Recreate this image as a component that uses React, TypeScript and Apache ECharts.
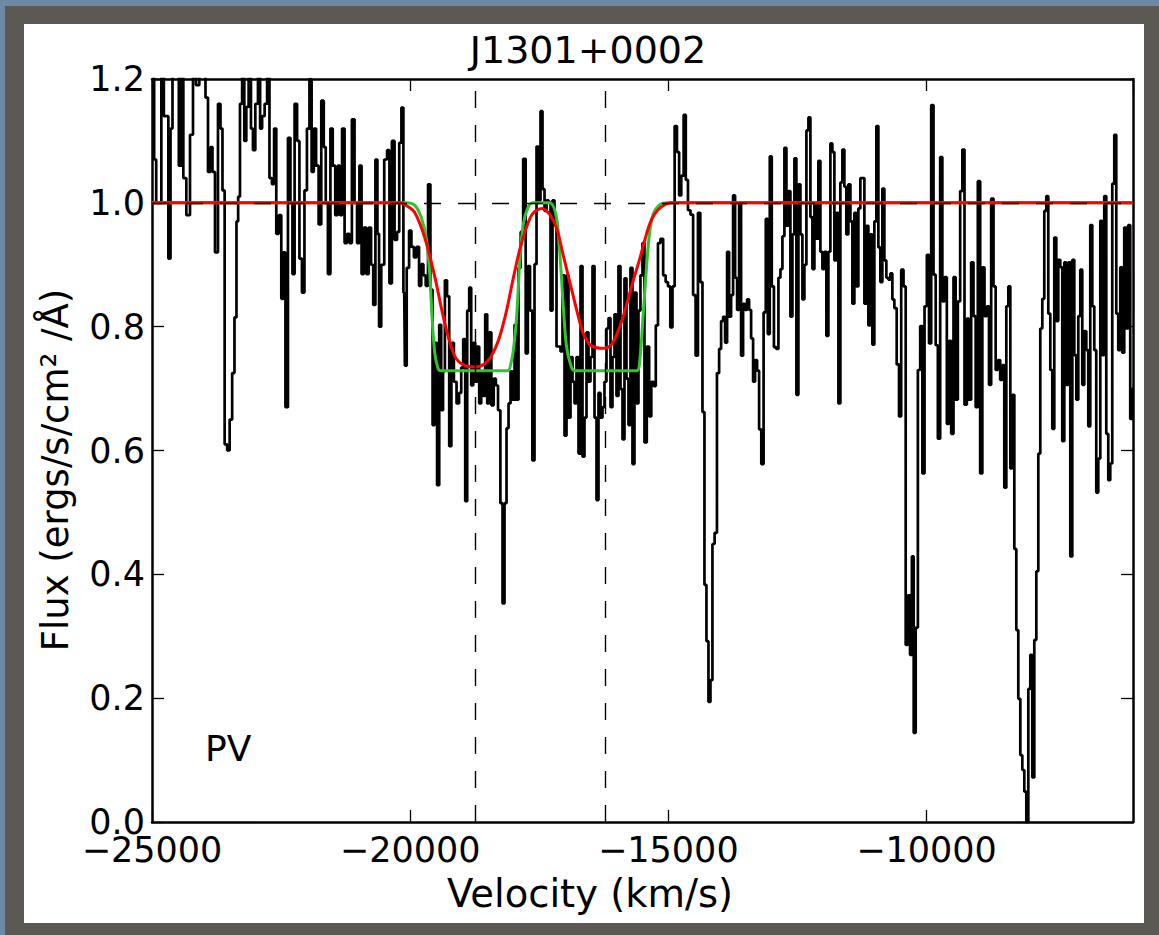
import React, { useEffect, useRef } from "react";
import * as echarts from "echarts";

const spectrumA: [number, number][] = [
  [-24974, 1.25], [-24942, 1.07], [-24896, 1.0], [-24845, 1.0], [-24793, 1.25], [-24748, 1.14], [-24703, 1.14], [-24664, 0.91],
  [-24619, 1.12], [-24587, 1.25], [-24542, 1.25], [-24503, 1.25], [-24458, 1.06], [-24412, 1.25], [-24374, 1.04], [-24296, 0.98],
  [-24232, 1.11], [-24180, 1.25], [-24116, 1.19], [-24051, 1.25], [-23987, 1.25], [-23941, 1.17], [-23890, 1.05], [-23845, 1.09],
  [-23812, 1.05], [-23748, 0.92], [-23696, 1.16], [-23651, 1.12], [-23619, 1.02], [-23567, 0.61], [-23522, 0.6], [-23470, 0.65],
  [-23425, 0.725], [-23380, 0.815], [-23348, 0.97], [-23315, 1.01], [-23277, 1.16], [-23232, 1.25], [-23193, 1.1], [-23154, 1.155],
  [-23103, 1.25], [-23064, 1.12], [-23025, 1.085], [-22973, 1.16], [-22922, 1.25], [-22890, 1.12], [-22844, 1.14], [-22793, 1.16],
  [-22748, 1.25], [-22702, 1.04], [-22651, 1.03], [-22619, 1.12], [-22567, 0.95], [-22522, 0.98], [-22470, 0.845], [-22438, 0.92],
  [-22393, 0.67], [-22341, 1.105], [-22296, 1.0], [-22264, 0.885], [-22212, 1.16], [-22167, 1.1], [-22122, 0.91], [-22070, 0.855],
  [-22025, 1.02], [-21973, 1.12], [-21928, 1.2], [-21889, 1.05], [-21844, 1.12], [-21799, 1.06], [-21747, 0.965], [-21696, 1.165],
  [-21651, 1.09], [-21619, 1.0], [-21567, 0.885], [-21522, 1.12], [-21477, 1.06], [-21425, 0.98], [-21380, 1.06], [-21341, 0.98],
  [-21296, 1.12], [-21244, 0.935], [-21199, 0.95], [-21154, 0.935], [-21103, 1.135], [-21051, 1.0], [-21006, 0.935], [-20960, 1.06],
  [-20922, 0.885], [-20877, 0.96], [-20825, 0.885], [-20780, 0.96], [-20734, 0.9], [-20696, 0.835], [-20650, 1.07], [-20618, 0.95],
  [-20586, 0.8], [-20534, 0.9], [-20470, 1.07], [-20424, 1.085], [-20379, 0.87], [-20328, 1.1], [-20276, 0.94],
];

const spectrumB: [number, number][] = [
  [-20231, 0.953], [-20192, 1.097], [-20147, 1.154], [-20115, 0.855], [-20089, 0.737], [-20044, 0.895], [-19998, 0.955], [-19953, 0.929],
  [-19902, 0.912], [-19850, 0.929], [-19805, 0.866], [-19766, 0.901], [-19721, 0.883], [-19676, 0.866], [-19631, 1.03], [-19585, 0.86],
  [-19547, 0.641], [-19501, 0.774], [-19456, 0.544], [-19418, 0.803], [-19379, 0.665], [-19347, 0.728], [-19308, 0.875], [-19263, 0.849],
  [-19224, 0.607], [-19179, 0.774], [-19127, 0.711], [-19076, 0.676], [-19030, 0.693], [-18992, 0.734], [-18953, 0.78], [-18914, 0.518],
  [-18876, 0.826], [-18837, 0.863], [-18798, 0.705], [-18759, 0.774], [-18721, 0.711], [-18682, 0.768], [-18643, 0.676], [-18605, 0.728],
  [-18566, 0.688], [-18527, 0.82], [-18488, 0.676], [-18450, 0.791], [-18404, 0.673], [-18359, 0.716], [-18321, 0.705], [-18275, 0.665],
  [-18230, 0.515], [-18192, 0.353], [-18153, 0.515], [-18114, 0.636], [-18075, 0.676], [-18037, 0.728], [-17998, 0.682], [-17959, 0.803],
  [-17920, 0.682], [-17882, 0.895], [-17837, 0.953], [-17785, 1.071], [-17740, 0.757], [-17701, 0.898], [-17656, 0.826], [-17611, 0.584],
  [-17572, 0.901], [-17533, 1.091], [-17495, 1.004], [-17456, 1.148], [-17417, 1.022], [-17378, 0.987], [-17340, 1.004], [-17301, 1.001],
  [-17262, 0.826], [-17224, 1.004], [-17185, 0.964], [-17146, 0.768], [-17107, 0.768], [-17069, 0.76], [-17030, 0.883], [-16991, 0.624],
  [-16953, 0.883], [-16914, 0.653], [-16875, 0.751], [-16836, 0.711], [-16798, 0.676], [-16759, 0.751], [-16720, 0.595], [-16681, 0.898],
  [-16643, 0.59], [-16604, 0.653], [-16565, 0.791], [-16527, 0.711], [-16488, 0.751], [-16449, 0.898], [-16410, 0.653], [-16372, 0.52],
  [-16333, 0.693], [-16294, 0.653], [-16256, 0.67], [-16217, 0.711], [-16178, 0.797], [-16139, 0.814], [-16101, 0.67], [-16062, 0.751],
  [-16023, 0.82], [-15985, 0.688], [-15946, 0.898], [-15907, 0.699], [-15868, 0.618], [-15830, 0.878], [-15791, 0.716], [-15752, 0.641],
  [-15714, 0.895], [-15675, 0.578], [-15636, 0.855], [-15597, 0.676], [-15559, 0.826], [-15520, 0.883], [-15481, 0.935], [-15443, 0.613],
  [-15391, 0.768],
];

const spectrumC: [number, number][] = [
  [-15352, 0.655], [-15307, 0.711], [-15262, 0.704], [-15223, 0.802], [-15178, 0.935], [-15126, 0.942], [-15074, 0.883], [-15029, 0.872],
  [-14984, 0.865], [-14939, 0.799], [-14900, 0.865], [-14855, 1.124], [-14810, 1.082], [-14771, 1.012], [-14726, 1.044], [-14681, 1.142],
  [-14642, 1.037], [-14597, 0.988], [-14545, 0.981], [-14494, 0.851], [-14449, 0.753], [-14403, 0.984], [-14358, 0.872], [-14319, 0.662],
  [-14281, 0.383], [-14242, 0.292], [-14203, 0.194], [-14165, 0.229], [-14126, 0.449], [-14081, 0.467], [-14035, 0.725], [-13997, 0.764],
  [-13958, 0.809], [-13919, 0.816], [-13881, 0.774], [-13842, 0.921], [-13803, 0.816], [-13765, 0.851], [-13726, 1.012], [-13687, 0.879],
  [-13648, 0.827], [-13610, 0.998], [-13571, 0.753], [-13532, 0.837], [-13493, 0.827], [-13455, 0.844], [-13416, 0.827], [-13377, 0.781],
  [-13339, 0.711], [-13300, 0.746], [-13261, 0.729], [-13222, 0.634], [-13177, 0.578], [-13132, 0.823], [-13093, 0.974], [-13054, 0.788],
  [-13016, 1.075], [-12977, 0.865], [-12932, 0.767], [-12887, 0.764], [-12848, 0.879], [-12809, 0.893], [-12771, 0.946], [-12732, 1.089],
  [-12693, 0.963], [-12655, 1.019], [-12616, 0.816], [-12577, 0.949], [-12539, 1.072], [-12500, 0.69], [-12461, 1.03], [-12422, 0.949],
  [-12384, 0.844], [-12345, 0.9], [-12306, 1.117], [-12267, 1.138], [-12229, 0.977], [-12190, 0.893], [-12151, 0.998], [-12113, 0.942],
  [-12074, 1.068], [-12035, 0.921], [-11996, 0.893], [-11958, 0.921], [-11919, 0.785], [-11880, 0.921], [-11842, 1.096], [-11803, 1.082],
  [-11764, 0.907], [-11725, 0.984], [-11687, 0.676], [-11648, 1.033], [-11609, 1.086], [-11571, 1.026], [-11532, 0.949], [-11493, 1.03],
  [-11454, 0.97], [-11416, 0.837], [-11377, 0.984], [-11338, 0.865], [-11300, 0.991], [-11261, 1.04], [-11222, 1.04], [-11183, 0.837],
  [-11145, 0.963], [-11106, 0.802], [-11067, 0.949], [-11029, 0.771], [-10990, 0.97], [-10951, 1.124], [-10912, 0.928], [-10874, 0.872],
  [-10835, 1.023], [-10796, 0.907], [-10758, 0.879], [-10719, 0.876], [-10680, 0.886], [-10641, 0.844], [-10603, 0.83], [-10551, 0.739],
];

const spectrumD: [number, number][] = [
  [-10512, 0.655], [-10467, 0.892], [-10422, 0.865], [-10383, 0.286], [-10338, 0.366], [-10299, 0.27], [-10267, 0.429], [-10228, 0.144],
  [-10189, 0.314], [-10144, 0.73], [-10099, 0.801], [-10060, 0.563], [-10015, 0.833], [-9970, 0.916], [-9931, 0.773], [-9886, 1.158],
  [-9841, 0.884], [-9802, 0.77], [-9757, 0.619], [-9712, 1.074], [-9673, 0.841], [-9628, 0.88], [-9583, 0.643], [-9544, 0.777],
  [-9499, 0.627], [-9454, 0.88], [-9415, 0.682], [-9370, 0.841], [-9325, 1.019], [-9286, 1.086], [-9241, 0.674], [-9196, 0.813],
  [-9157, 0.682], [-9112, 0.904], [-9067, 0.817], [-9028, 0.67], [-8983, 1.035], [-8937, 0.563], [-8899, 0.896], [-8854, 0.817],
  [-8808, 0.833], [-8770, 0.706], [-8724, 1.007], [-8679, 0.865], [-8641, 0.73], [-8595, 0.746], [-8550, 0.714], [-8512, 0.738],
  [-8473, 0.54], [-8434, 0.833], [-8395, 0.865], [-8357, 0.571], [-8318, 0.69], [-8279, 0.441], [-8241, 0.31], [-8202, 0.199],
  [-8163, 0.108], [-8124, 0.084], [-8086, 0.049], [-8047, -0.01], [-8008, 0.215], [-7970, 0.27], [-7931, 0.072], [-7892, 0.294],
  [-7853, 0.405], [-7815, 0.595], [-7776, 0.797], [-7737, 0.845], [-7699, 0.987], [-7660, 1.011], [-7621, 0.821], [-7582, 0.73],
  [-7544, 0.635], [-7505, 0.944], [-7466, 0.809], [-7428, 0.908], [-7389, 0.896], [-7350, 0.615], [-7311, 0.904], [-7273, 0.706],
  [-7234, 0.904], [-7195, 0.429], [-7156, 0.908], [-7118, 0.754], [-7079, 0.682], [-7040, 0.817], [-7002, 0.892], [-6963, 0.706],
  [-6924, 0.793], [-6885, 0.762], [-6847, 0.639], [-6808, 0.964], [-6769, 0.833], [-6731, 0.762], [-6692, 0.532], [-6653, 0.587],
  [-6614, 0.971], [-6576, 0.754], [-6537, 1.011], [-6498, 0.627], [-6460, 0.552], [-6421, 0.579], [-6382, 1.031], [-6343, 1.11],
  [-6305, 0.821], [-6266, 0.762], [-6227, 0.896], [-6189, 0.758], [-6150, 0.96], [-6111, 0.797], [-6073, 0.964], [-6034, 0.651],
  [-5990, 0.7],
];

// Gaussian fit (red)
const redFit: [number, number][] = [
  [-25000, 1], [-20199, 1], [-20063, 0.995], [-19908, 0.984], [-19715, 0.943], [-19521, 0.88], [-19328, 0.805], [-19134, 0.752],
  [-18940, 0.737], [-18747, 0.735], [-18553, 0.74], [-18398, 0.757], [-18263, 0.785], [-18127, 0.828], [-18011, 0.875], [-17876, 0.925],
  [-17740, 0.962], [-17624, 0.983], [-17450, 0.991], [-17295, 0.981], [-17159, 0.958], [-17043, 0.918], [-16908, 0.872], [-16772, 0.826],
  [-16656, 0.791], [-16521, 0.771], [-16385, 0.766], [-16230, 0.765], [-16075, 0.774], [-15882, 0.814], [-15688, 0.872], [-15552, 0.91],
  [-15455, 0.94], [-15359, 0.966], [-15262, 0.982], [-15126, 0.994], [-14932, 1], [-6000, 1],
];

// Flat-bottomed fit (green)
const greenFit: [number, number][] = [
  [-25000, 1], [-20083, 1], [-19908, 0.996], [-19779, 0.975], [-19682, 0.94], [-19618, 0.882], [-19574, 0.813], [-19521, 0.756],
  [-19457, 0.732], [-19405, 0.729], [-18108, 0.729], [-18050, 0.74], [-18005, 0.76], [-17939, 0.814], [-17876, 0.906], [-17812, 0.964],
  [-17715, 0.993], [-17624, 1], [-17295, 1], [-17165, 0.976], [-17101, 0.918], [-17037, 0.837], [-16972, 0.768], [-16875, 0.734],
  [-16811, 0.729], [-15611, 0.729], [-15553, 0.745], [-15494, 0.81], [-15436, 0.88], [-15378, 0.94], [-15300, 0.98], [-15164, 0.997],
  [-15010, 1], [-6000, 1],
];

const markerVelocities = [-18740, -16230];
const continuumLevel = 1.0;
const xTicks = [-25000, -20000, -15000, -10000];
const yTicks = [0, 0.2, 0.4, 0.6, 0.8, 1.0, 1.2];

const FONT = "DejaVu Sans";
const FS = 35;

export default function App() {
  const ref = useRef<HTMLDivElement>(null);

  useEffect(() => {
    document.body.style.margin = "0";
    const chart = echarts.init(ref.current!, null, { renderer: "svg" });
    const spectrum = [...spectrumA, ...spectrumB, ...spectrumC, ...spectrumD];

    const axisLine = { show: true, onZero: false, lineStyle: { color: "#000", width: 2.5 } };
    const axisTick = { show: true, inside: true, length: 12, lineStyle: { color: "#000", width: 1.3 } };

    const xFmt = (v: number) =>
      xTicks.includes(v) ? (v < 0 ? "\u2212" + Math.abs(v) : String(v)) : "";
    const yFmt = (v: number) => {
      const hit = yTicks.find((t) => Math.abs(t - v) < 1e-6);
      return hit === undefined ? "" : hit.toFixed(1);
    };

    chart.setOption({
      animation: false,
      backgroundColor: "transparent",
      grid: { left: 152, top: 79, width: 981, height: 743, containLabel: false },
      xAxis: [
        {
          type: "value", min: -25000, max: -6000, interval: 5000, position: "bottom",
          axisLine, axisTick, splitLine: { show: false },
          axisLabel: { formatter: xFmt, fontSize: FS, fontFamily: FONT, color: "#000", margin: 10, showMaxLabel: false },
        },
        {
          type: "value", min: -25000, max: -6000, interval: 5000, position: "top",
          axisLine, axisTick, splitLine: { show: false }, axisLabel: { show: false },
        },
      ],
      yAxis: [
        {
          type: "value", min: 0, max: 1.2, interval: 0.2, position: "left",
          axisLine, axisTick, splitLine: { show: false },
          axisLabel: { formatter: yFmt, fontSize: FS, fontFamily: FONT, color: "#000", margin: 7 },
        },
        {
          type: "value", min: 0, max: 1.2, interval: 0.2, position: "right",
          axisLine, axisTick, splitLine: { show: false }, axisLabel: { show: false },
        },
      ],
      series: [
        {
          type: "line", data: spectrum, step: "middle", symbol: "none", clip: true, z: 2,
          lineStyle: { color: "#000", width: 2.7 },
        },
        {
          type: "line", data: greenFit, smooth: 0.3, symbol: "none", clip: true, z: 3,
          lineStyle: { color: "#2fc42f", width: 3 },
        },
        {
          type: "line", data: redFit, smooth: 0.3, symbol: "none", clip: true, z: 4,
          lineStyle: { color: "#ff0000", width: 3 },
        },
        {
          type: "line", data: [], z: 5,
          markLine: {
            silent: true, symbol: "none", animation: false,
            label: { show: false },
            lineStyle: { color: "#000", width: 1.4, type: [17, 17] },
            data: [...markerVelocities.map((v) => ({ xAxis: v })), { yAxis: continuumLevel }],
          },
        },
      ],
      graphic: [
        {
          type: "text", x: 588, y: 50,
          style: { text: "J1301+0002", textAlign: "center", textVerticalAlign: "middle", fontSize: 38, fontFamily: FONT, fill: "#000" },
        },
        {
          type: "text", x: 590, y: 893,
          style: { text: "Velocity (km/s)", textAlign: "center", textVerticalAlign: "middle", fontSize: 38.5, fontFamily: FONT, fill: "#000" },
        },
        {
          type: "text", x: 55, y: 470, rotation: Math.PI / 2,
          style: { text: "Flux (ergs/s/cm\u00B2 /\u00C5)", textAlign: "center", textVerticalAlign: "middle", fontSize: 37, fontFamily: FONT, fill: "#000" },
        },
        {
          type: "text", x: 205, y: 748,
          style: { text: "PV", textAlign: "left", textVerticalAlign: "middle", fontSize: 36, fontFamily: FONT, fill: "#000" },
        },
      ],
    });
    return () => chart.dispose();
  }, []);

  return (
    <div style={{ position: "relative", width: 1159, height: 935, background: "#5c5954", overflow: "hidden" }}>
      <div style={{ position: "absolute", left: 0, top: 0, width: 5, height: 935, background: "#6d89a5" }} />
      <div style={{ position: "absolute", left: 0, top: 0, width: 1159, height: 6, background: "#6d89a5" }} />
      <div style={{ position: "absolute", left: 24, top: 24, width: 1120, height: 899, background: "#ffffff" }} />
      <div ref={ref} style={{ position: "absolute", left: 0, top: 0, width: 1159, height: 935 }} />
    </div>
  );
}
